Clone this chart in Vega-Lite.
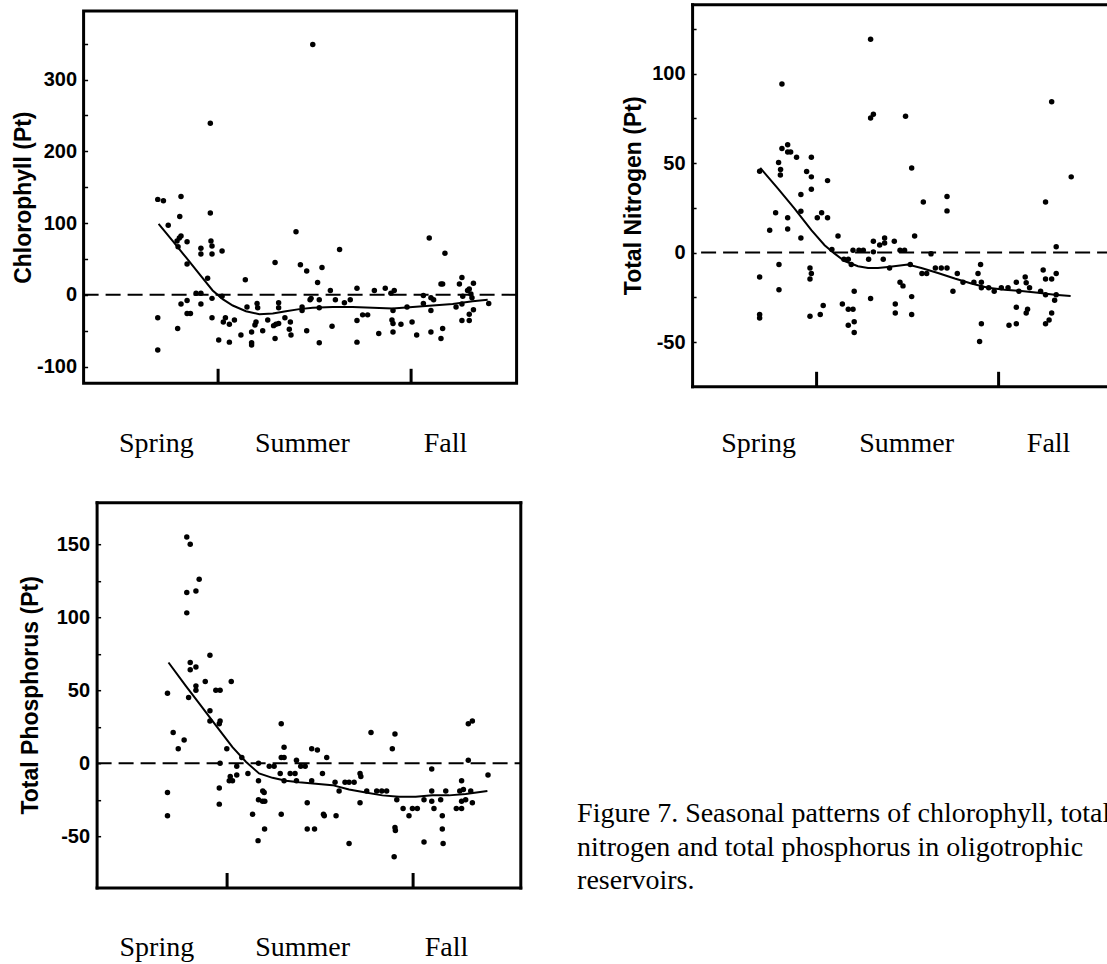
{
  "$schema": "https://vega.github.io/schema/vega-lite/v6.json",
  "background": "white",
  "padding": {"left": 10.6, "top": 4, "right": 0, "bottom": 0},
  "config": {
    "view": {"stroke": "black", "strokeWidth": 3},
    "axis": {"grid": false, "domain": false, "labelColor": "black", "tickColor": "black", "titleColor": "black", "domainColor": "black", "domainWidth": 3, "domainCap": "square"},
    "axisY": {"labelFont": "Liberation Sans", "labelFontSize": 20, "labelFontWeight": "bold", "tickSize": -4, "tickWidth": 1.5, "labelPadding": 11, "labelBaseline": "middle", "titleFont": "Liberation Sans", "titleFontSize": 23, "titleFontWeight": "bold", "labelOverlap": false, "labelBound": false},
    "axisX": {"labelFont": "Liberation Serif", "labelFontSize": 28, "labelFontWeight": "normal", "labelAngle": 0, "tickSize": -15, "tickWidth": 3, "labelPadding": 83, "labelBaseline": "alphabetic", "labelOverlap": false, "labelFlush": false, "labelBound": false}
  },
  "datasets": {
    "zero": [{"value": 0}],
    "chlorophyll": [
      {"day": 123.4, "value": 133}, {"day": 126.1, "value": 131}, {"day": 123.4, "value": -32}, {"day": 123.4, "value": -77},
      {"day": 128.4, "value": 97}, {"day": 134.5, "value": 137}, {"day": 133.9, "value": 109}, {"day": 134.5, "value": 82},
      {"day": 133.7, "value": 79}, {"day": 132.6, "value": 75}, {"day": 133.1, "value": 67}, {"day": 137.4, "value": 74},
      {"day": 137.4, "value": 43}, {"day": 134.5, "value": -13}, {"day": 132.9, "value": -47}, {"day": 137.4, "value": -8},
      {"day": 137.4, "value": -26}, {"day": 139.0, "value": -26}, {"day": 141.7, "value": 2}, {"day": 144.0, "value": 2},
      {"day": 144.0, "value": -13}, {"day": 144.0, "value": 65}, {"day": 144.0, "value": 57}, {"day": 147.2, "value": 23},
      {"day": 148.5, "value": 239}, {"day": 148.5, "value": 114}, {"day": 148.8, "value": 75}, {"day": 149.3, "value": 68},
      {"day": 149.3, "value": 57}, {"day": 149.3, "value": -5}, {"day": 149.3, "value": -32}, {"day": 154.1, "value": 61},
      {"day": 154.1, "value": -2}, {"day": 152.5, "value": -63}, {"day": 155.7, "value": -32}, {"day": 154.7, "value": -38},
      {"day": 157.6, "value": -41}, {"day": 160.0, "value": -35}, {"day": 157.6, "value": -66}, {"day": 163.1, "value": -56},
      {"day": 165.2, "value": 21}, {"day": 166.0, "value": -17}, {"day": 168.2, "value": -52}, {"day": 168.2, "value": -67},
      {"day": 168.2, "value": -70}, {"day": 170.8, "value": -12}, {"day": 171.1, "value": -18}, {"day": 170.3, "value": -38},
      {"day": 169.8, "value": -42}, {"day": 173.5, "value": -50}, {"day": 175.9, "value": -35}, {"day": 179.4, "value": 45},
      {"day": 178.7, "value": -43}, {"day": 179.8, "value": -41}, {"day": 181.1, "value": -40}, {"day": 179.4, "value": -61},
      {"day": 181.1, "value": -11}, {"day": 181.1, "value": -18}, {"day": 184.1, "value": -32}, {"day": 186.7, "value": -38},
      {"day": 186.2, "value": -48}, {"day": 187.0, "value": -56}, {"day": 189.4, "value": 88}, {"day": 191.5, "value": 42},
      {"day": 192.3, "value": -17}, {"day": 192.3, "value": -22}, {"day": 194.5, "value": 33}, {"day": 194.5, "value": -50},
      {"day": 196.6, "value": -5}, {"day": 196.1, "value": -7}, {"day": 197.4, "value": 349}, {"day": 199.7, "value": 17},
      {"day": 200.5, "value": -7}, {"day": 200.5, "value": -18}, {"day": 200.5, "value": -67}, {"day": 201.8, "value": 38},
      {"day": 205.8, "value": 6}, {"day": 206.6, "value": -44}, {"day": 208.2, "value": -7}, {"day": 210.2, "value": 63},
      {"day": 212.5, "value": -11}, {"day": 215.3, "value": -7}, {"day": 218.5, "value": 9}, {"day": 218.5, "value": -36},
      {"day": 218.5, "value": -66}, {"day": 221.2, "value": -28}, {"day": 223.6, "value": -28}, {"day": 226.8, "value": 6},
      {"day": 228.9, "value": -54}, {"day": 232.0, "value": 9}, {"day": 234.7, "value": 2}, {"day": 236.3, "value": 6},
      {"day": 235.2, "value": -35}, {"day": 235.7, "value": -40}, {"day": 235.7, "value": -22}, {"day": 235.7, "value": -52},
      {"day": 239.5, "value": -41}, {"day": 242.4, "value": -17}, {"day": 244.8, "value": -38}, {"day": 247.0, "value": -56},
      {"day": 250.2, "value": -1}, {"day": 250.2, "value": -12}, {"day": 253.0, "value": 79}, {"day": 253.8, "value": -4},
      {"day": 255.1, "value": -7}, {"day": 253.8, "value": -22}, {"day": 253.8, "value": -52}, {"day": 258.6, "value": 15},
      {"day": 259.4, "value": 15}, {"day": 260.5, "value": 58}, {"day": 259.4, "value": -47}, {"day": 258.6, "value": -61},
      {"day": 265.8, "value": -17}, {"day": 267.4, "value": 15}, {"day": 268.6, "value": 24}, {"day": 269.0, "value": -2},
      {"day": 268.6, "value": -13}, {"day": 268.6, "value": -36}, {"day": 271.3, "value": 6}, {"day": 272.1, "value": 8},
      {"day": 272.1, "value": -27}, {"day": 272.1, "value": -36}, {"day": 274.1, "value": 16}, {"day": 273.4, "value": -4},
      {"day": 274.1, "value": -21}, {"day": 272.9, "value": 1}, {"day": 281.4, "value": -12}
    ],
    "chlorophyllTrend": [
      {"day": 123.8, "value": 99}, {"day": 130.5, "value": 75}, {"day": 136.9, "value": 52}, {"day": 143.2, "value": 29},
      {"day": 149.6, "value": 6}, {"day": 154.4, "value": -6}, {"day": 159.2, "value": -15}, {"day": 165.5, "value": -23},
      {"day": 171.9, "value": -27}, {"day": 178.3, "value": -26}, {"day": 184.6, "value": -23}, {"day": 191.0, "value": -20},
      {"day": 197.4, "value": -18}, {"day": 206.9, "value": -17}, {"day": 216.4, "value": -17}, {"day": 226.0, "value": -18},
      {"day": 235.5, "value": -19}, {"day": 245.1, "value": -17}, {"day": 254.6, "value": -15}, {"day": 264.2, "value": -13},
      {"day": 273.7, "value": -9}, {"day": 280.9, "value": -7}
    ],
    "nitrogen": [
      {"day": 123.3, "value": 45.4}, {"day": 123.3, "value": -13.6}, {"day": 123.3, "value": -34.6}, {"day": 123.3, "value": -36.5},
      {"day": 128.4, "value": 12.5}, {"day": 131.4, "value": 22.3}, {"day": 132.9, "value": 50.3}, {"day": 133.9, "value": 46.4},
      {"day": 133.8, "value": 43.4}, {"day": 134.6, "value": 58.1}, {"day": 134.6, "value": 94.2}, {"day": 133.1, "value": -6.7},
      {"day": 133.1, "value": -20.7}, {"day": 137.5, "value": 60.3}, {"day": 137.5, "value": 56.2}, {"day": 139.0, "value": 56.2},
      {"day": 137.5, "value": 19.4}, {"day": 137.5, "value": 13.2}, {"day": 142.0, "value": 53.3}, {"day": 144.2, "value": 32.4},
      {"day": 144.2, "value": 23.1}, {"day": 144.2, "value": 8.2}, {"day": 147.1, "value": 45.3}, {"day": 149.5, "value": 53.3},
      {"day": 149.5, "value": 42.3}, {"day": 149.5, "value": 35.4}, {"day": 148.8, "value": -8.6}, {"day": 149.5, "value": -11.7},
      {"day": 148.8, "value": -14.7}, {"day": 148.8, "value": -35.6}, {"day": 152.5, "value": 19.4}, {"day": 154.7, "value": 22.3},
      {"day": 157.7, "value": 40.2}, {"day": 157.7, "value": 19.4}, {"day": 154.0, "value": -34.6}, {"day": 155.5, "value": -29.6},
      {"day": 163.0, "value": 9.3}, {"day": 159.9, "value": 1.7}, {"day": 166.0, "value": -3.7}, {"day": 168.2, "value": -3.7},
      {"day": 169.7, "value": -6.7}, {"day": 165.2, "value": -28.7}, {"day": 168.2, "value": -31.7}, {"day": 170.6, "value": -31.7},
      {"day": 168.2, "value": -40.6}, {"day": 171.2, "value": -21.6}, {"day": 171.2, "value": -38.7}, {"day": 171.2, "value": -44.7},
      {"day": 170.6, "value": 1.3}, {"day": 173.6, "value": 1.3}, {"day": 175.8, "value": 1.3}, {"day": 178.5, "value": -3.7},
      {"day": 179.5, "value": 119.2}, {"day": 179.5, "value": 75.2}, {"day": 180.9, "value": 77.3}, {"day": 179.5, "value": -25.7},
      {"day": 180.9, "value": 6.3}, {"day": 180.9, "value": 0.4}, {"day": 184.1, "value": 4.3}, {"day": 186.6, "value": 8.2},
      {"day": 186.6, "value": 5.4}, {"day": 185.9, "value": -3.7}, {"day": 189.1, "value": -8.6}, {"day": 191.5, "value": 6.3},
      {"day": 192.0, "value": -28.7}, {"day": 192.0, "value": -33.7}, {"day": 194.4, "value": 1.3}, {"day": 196.7, "value": 1.3},
      {"day": 194.4, "value": -16.6}, {"day": 195.9, "value": -18.6}, {"day": 197.2, "value": 76.2}, {"day": 199.6, "value": -6.7},
      {"day": 200.3, "value": 47.3}, {"day": 200.3, "value": -24.6}, {"day": 200.3, "value": -34.6}, {"day": 201.8, "value": 9.3},
      {"day": 206.2, "value": 28.3}, {"day": 205.5, "value": -11.7}, {"day": 207.9, "value": -11.7}, {"day": 210.1, "value": -0.7},
      {"day": 212.3, "value": -8.6}, {"day": 215.3, "value": -8.6}, {"day": 218.2, "value": -8.6}, {"day": 218.2, "value": 31.3},
      {"day": 218.2, "value": 23.3}, {"day": 221.2, "value": -21.6}, {"day": 223.4, "value": -11.7}, {"day": 226.3, "value": -16.6},
      {"day": 231.8, "value": -16.6}, {"day": 233.9, "value": -11.7}, {"day": 235.2, "value": -6.7}, {"day": 235.6, "value": -16.6},
      {"day": 235.6, "value": -19.6}, {"day": 239.3, "value": -19.6}, {"day": 242.1, "value": -21.6}, {"day": 245.7, "value": -19.6},
      {"day": 249.1, "value": -19.6}, {"day": 234.7, "value": -49.7}, {"day": 235.6, "value": -39.7}, {"day": 253.3, "value": -16.6},
      {"day": 257.8, "value": -13.6}, {"day": 258.3, "value": -16.9}, {"day": 260.0, "value": -19.6}, {"day": 254.6, "value": -21.6},
      {"day": 253.3, "value": -30.5}, {"day": 259.0, "value": -31.7}, {"day": 258.3, "value": -33.7}, {"day": 249.6, "value": -40.6},
      {"day": 253.3, "value": -39.7}, {"day": 265.6, "value": -21.6}, {"day": 266.9, "value": -9.7}, {"day": 268.1, "value": -14.7},
      {"day": 271.2, "value": -14.7}, {"day": 268.1, "value": -23.6}, {"day": 268.1, "value": 28.3}, {"day": 271.2, "value": 84.2},
      {"day": 273.5, "value": 3.2}, {"day": 273.5, "value": -11.7}, {"day": 273.5, "value": -23.6}, {"day": 272.7, "value": -26.6},
      {"day": 271.2, "value": -33.7}, {"day": 269.9, "value": -37.6}, {"day": 268.1, "value": -39.7}, {"day": 281.1, "value": 42.3}
    ],
    "nitrogenTrend": [
      {"day": 123.6, "value": 47.3}, {"day": 132.6, "value": 35.7}, {"day": 141.0, "value": 24.6}, {"day": 149.5, "value": 12.5},
      {"day": 156.2, "value": 4.1}, {"day": 161.3, "value": -0.6}, {"day": 166.3, "value": -4.7}, {"day": 173.1, "value": -7.6},
      {"day": 178.2, "value": -8.6}, {"day": 183.2, "value": -8.6}, {"day": 188.3, "value": -8.0}, {"day": 193.4, "value": -7.4},
      {"day": 198.4, "value": -6.7}, {"day": 205.2, "value": -8.6}, {"day": 213.6, "value": -11.4}, {"day": 222.1, "value": -14.5},
      {"day": 230.5, "value": -17.3}, {"day": 238.9, "value": -19.6}, {"day": 247.4, "value": -20.7}, {"day": 255.8, "value": -21.4},
      {"day": 264.3, "value": -22.5}, {"day": 272.7, "value": -23.6}, {"day": 280.8, "value": -24.2}
    ],
    "phosphorus": [
      {"day": 123.1, "value": 48}, {"day": 123.1, "value": -20}, {"day": 123.1, "value": -36}, {"day": 125.9, "value": 21},
      {"day": 128.4, "value": 10}, {"day": 131.3, "value": 16}, {"day": 132.6, "value": 155}, {"day": 134.3, "value": 150},
      {"day": 132.6, "value": 117}, {"day": 132.6, "value": 103}, {"day": 137.1, "value": 118}, {"day": 138.7, "value": 126},
      {"day": 134.3, "value": 69}, {"day": 134.3, "value": 64}, {"day": 137.1, "value": 66}, {"day": 137.1, "value": 53},
      {"day": 137.1, "value": 50}, {"day": 133.5, "value": 45}, {"day": 141.7, "value": 56}, {"day": 144.0, "value": 74},
      {"day": 144.0, "value": 36}, {"day": 144.0, "value": 29}, {"day": 146.9, "value": 50}, {"day": 149.0, "value": 50},
      {"day": 149.0, "value": 29}, {"day": 148.6, "value": 27}, {"day": 149.0, "value": 0}, {"day": 148.6, "value": -17},
      {"day": 148.6, "value": -28}, {"day": 152.3, "value": 10}, {"day": 154.5, "value": 56}, {"day": 154.0, "value": -9},
      {"day": 153.5, "value": -12}, {"day": 155.1, "value": -12}, {"day": 157.2, "value": -2}, {"day": 157.2, "value": -8},
      {"day": 159.7, "value": 4}, {"day": 162.7, "value": -7}, {"day": 165.0, "value": -35}, {"day": 167.9, "value": 0},
      {"day": 167.9, "value": -12}, {"day": 167.9, "value": -25}, {"day": 170.0, "value": -19}, {"day": 170.7, "value": -20},
      {"day": 169.9, "value": -26}, {"day": 171.0, "value": -26}, {"day": 170.9, "value": -45}, {"day": 173.2, "value": -2},
      {"day": 175.6, "value": -2}, {"day": 178.6, "value": -7}, {"day": 179.1, "value": 27}, {"day": 179.1, "value": 4},
      {"day": 180.5, "value": 4}, {"day": 180.5, "value": 11}, {"day": 180.5, "value": -12}, {"day": 179.1, "value": -35},
      {"day": 183.5, "value": -7}, {"day": 185.9, "value": -7}, {"day": 186.6, "value": 2}, {"day": 186.6, "value": -12},
      {"day": 188.7, "value": -2}, {"day": 190.9, "value": -2}, {"day": 191.9, "value": -27}, {"day": 191.9, "value": -45},
      {"day": 195.5, "value": -45}, {"day": 194.1, "value": 10}, {"day": 196.9, "value": 9}, {"day": 194.1, "value": -12},
      {"day": 199.4, "value": -7}, {"day": 201.5, "value": 4}, {"day": 199.9, "value": -35}, {"day": 200.3, "value": -36},
      {"day": 205.6, "value": -13}, {"day": 206.1, "value": -36}, {"day": 207.6, "value": -19}, {"day": 210.5, "value": -13},
      {"day": 212.5, "value": -13}, {"day": 215.0, "value": -13}, {"day": 217.9, "value": -7}, {"day": 218.3, "value": -9},
      {"day": 217.9, "value": -27}, {"day": 221.2, "value": -19}, {"day": 223.3, "value": 21}, {"day": 226.1, "value": -19},
      {"day": 228.6, "value": -19}, {"day": 231.0, "value": -19}, {"day": 233.8, "value": 10}, {"day": 235.1, "value": 20},
      {"day": 236.0, "value": -25}, {"day": 235.1, "value": -44}, {"day": 235.3, "value": -46}, {"day": 239.1, "value": -31},
      {"day": 242.0, "value": -36}, {"day": 243.7, "value": -31}, {"day": 246.1, "value": -31}, {"day": 249.4, "value": -25},
      {"day": 253.2, "value": -4}, {"day": 253.2, "value": -19}, {"day": 253.2, "value": -26}, {"day": 254.3, "value": -31},
      {"day": 257.6, "value": -25}, {"day": 258.4, "value": -36}, {"day": 258.4, "value": -45}, {"day": 260.1, "value": -19},
      {"day": 265.3, "value": -31}, {"day": 267.9, "value": -31}, {"day": 267.9, "value": -12}, {"day": 267.0, "value": -19},
      {"day": 268.8, "value": -18}, {"day": 267.9, "value": -26}, {"day": 269.9, "value": -25}, {"day": 271.2, "value": 2},
      {"day": 271.2, "value": 27}, {"day": 273.2, "value": 29}, {"day": 272.4, "value": -19}, {"day": 273.2, "value": -27},
      {"day": 280.9, "value": -8}, {"day": 167.7, "value": -53}, {"day": 212.5, "value": -55}, {"day": 234.7, "value": -64},
      {"day": 249.4, "value": -54}, {"day": 258.8, "value": -55}
    ],
    "phosphorusTrend": [
      {"day": 123.6, "value": 69}, {"day": 132.1, "value": 53}, {"day": 138.7, "value": 41}, {"day": 146.9, "value": 26},
      {"day": 155.1, "value": 11}, {"day": 161.7, "value": 1}, {"day": 168.2, "value": -7}, {"day": 174.8, "value": -10},
      {"day": 181.4, "value": -12}, {"day": 187.9, "value": -13}, {"day": 196.1, "value": -14}, {"day": 204.3, "value": -15},
      {"day": 212.5, "value": -18}, {"day": 220.7, "value": -20}, {"day": 228.9, "value": -22}, {"day": 237.1, "value": -23},
      {"day": 245.3, "value": -23}, {"day": 253.5, "value": -22}, {"day": 261.7, "value": -22}, {"day": 269.9, "value": -21},
      {"day": 280.6, "value": -19}
    ],
    "caption": [
      {"line": 1, "text": "Figure 7. Seasonal patterns of chlorophyll, total"},
      {"line": 2, "text": "nitrogen and total phosphorus in oligotrophic"},
      {"line": 3, "text": "reservoirs."}
    ]
  },
  "spacing": 43.2,
  "vconcat": [
    {
      "spacing": 102.5,
      "hconcat": [
        {
          "width": 433,
          "height": 372.3,
          "layer": [
            {
              "data": {"name": "zero"},
              "mark": {"type": "rule", "color": "black", "strokeWidth": 2, "strokeDash": [15, 7]},
              "encoding": {"y": {"field": "value", "type": "quantitative", "title": "Chlorophyll (Pt)"}}
            },
            {
              "data": {"name": "chlorophyll"},
              "mark": {"type": "point", "filled": true, "color": "black", "size": 30, "opacity": 1},
              "encoding": {
                "x": {"field": "day", "type": "quantitative", "title": null,
                  "scale": {"domain": [88.0, 294.7], "nice": false, "zero": false},
                  "axis": {"values": [122.5, 152, 192.2, 244, 260.5], "labelOverlap": false, "labelPadding": 83,
                    "labelExpr": "datum.value == 152 || datum.value == 244 ? '' : datum.value < 150 ? 'Spring' : datum.value < 230 ? 'Summer' : 'Fall'",
                    "tickOpacity": {"condition": {"test": "datum.value == 152 || datum.value == 244", "value": 1}, "value": 0}}},
                "y": {"field": "value", "type": "quantitative", "title": "Chlorophyll (Pt)",
                  "scale": {"domain": [-123.4, 395.6], "nice": false, "zero": false},
                  "axis": {"values": [-100, -50, 0, 50, 100, 150, 200, 250, 300, 350], "labelOverlap": false,
                    "labelExpr": "datum.value % 100 == 0 ? '' + datum.value : ''", "titlePadding": 1}}
              }
            },
            {
              "data": {"name": "chlorophyllTrend"},
              "mark": {"type": "line", "color": "black", "strokeWidth": 2},
              "encoding": {
                "x": {"field": "day", "type": "quantitative", "title": null},
                "y": {"field": "value", "type": "quantitative", "title": "Chlorophyll (Pt)"}
              }
            }
          ]
        },
        {
          "width": 420,
          "height": 375.3,
          "view": {"stroke": null},
          "resolve": {"axis": {"x": "independent", "y": "independent"}},
          "layer": [
            {
              "data": {"name": "zero"},
              "mark": {"type": "rule", "color": "black", "strokeWidth": 2, "strokeDash": [15, 7]},
              "encoding": {"y": {"field": "value", "type": "quantitative", "axis": null}}
            },
            {
              "data": {"name": "nitrogen"},
              "mark": {"type": "point", "filled": true, "color": "black", "size": 30, "opacity": 1},
              "encoding": {
                "x": {"field": "day", "type": "quantitative", "title": null,
                  "scale": {"domain": [89.1, 301.8], "nice": false, "zero": false},
                  "axis": {"orient": "bottom", "domain": true, "values": [122.5, 152, 197.5, 244, 269.4], "labelOverlap": false, "labelPadding": 80,
                    "labelExpr": "datum.value == 152 || datum.value == 244 ? '' : datum.value < 150 ? 'Spring' : datum.value < 230 ? 'Summer' : 'Fall'",
                    "tickOpacity": {"condition": {"test": "datum.value == 152 || datum.value == 244", "value": 1}, "value": 0}}},
                "y": {"field": "value", "type": "quantitative", "title": "Total Nitrogen (Pt)",
                  "scale": {"domain": [-74.7, 138.7], "range": [375.3, -6.7], "nice": false, "zero": false},
                  "axis": {"orient": "left", "domain": true, "values": [-50, -25, 0, 25, 50, 75, 100, 125], "labelOverlap": false,
                    "labelExpr": "datum.value % 50 == 0 ? '' + datum.value : ''", "titlePadding": 6}}
              }
            },
            {
              "data": {"name": "nitrogenTrend"},
              "mark": {"type": "line", "color": "black", "strokeWidth": 2},
              "encoding": {
                "x": {"field": "day", "type": "quantitative", "axis": null},
                "y": {"field": "value", "type": "quantitative", "axis": null}
              }
            },
            {
              "data": {"name": "nitrogenTrend"},
              "mark": {"type": "point", "opacity": 0},
              "encoding": {
                "x": {"field": "day", "type": "quantitative",
                  "axis": {"orient": "top", "offset": 6.7, "domain": true, "ticks": false, "labels": false, "title": null}},
                "y": {"field": "value", "type": "quantitative", "axis": null}
              }
            }
          ]
        }
      ]
    },
    {
      "spacing": 55.5,
      "hconcat": [
        {
          "width": 436.7,
          "height": 385.3,
          "view": {"stroke": null},
          "resolve": {"axis": {"x": "independent", "y": "independent"}},
          "layer": [
            {
              "data": {"name": "zero"},
              "mark": {"type": "rule", "color": "black", "strokeWidth": 2, "strokeDash": [15, 7]},
              "encoding": {
                "x": {"datum": 88.2, "type": "quantitative", "axis": null},
                "x2": {"datum": 296.8},
                "y": {"field": "value", "type": "quantitative", "axis": null}
              }
            },
            {
              "data": {"name": "phosphorus"},
              "mark": {"type": "point", "filled": true, "color": "black", "size": 30, "opacity": 1},
              "encoding": {
                "x": {"field": "day", "type": "quantitative", "title": null,
                  "scale": {"domain": [88.2, 296.8], "range": [13, 436.7], "nice": false, "zero": false},
                  "axis": {"orient": "bottom", "domain": true, "values": [117.6, 152, 189.4, 244, 260.2], "labelOverlap": false, "labelPadding": 83,
                    "labelExpr": "datum.value == 152 || datum.value == 244 ? '' : datum.value < 150 ? 'Spring' : datum.value < 230 ? 'Summer' : 'Fall'",
                    "tickOpacity": {"condition": {"test": "datum.value == 152 || datum.value == 244", "value": 1}, "value": 0}}},
                "y": {"field": "value", "type": "quantitative", "title": "Total Phosphorus (Pt)",
                  "scale": {"domain": [-85.1, 178.8], "nice": false, "zero": false},
                  "axis": {"orient": "left", "offset": -13, "domain": true, "values": [-50, -25, 0, 25, 50, 75, 100, 125, 150], "labelOverlap": false,
                    "labelExpr": "datum.value % 50 == 0 ? '' + datum.value : ''", "titlePadding": 14}}
              }
            },
            {
              "data": {"name": "phosphorusTrend"},
              "mark": {"type": "line", "color": "black", "strokeWidth": 2},
              "encoding": {
                "x": {"field": "day", "type": "quantitative", "axis": null},
                "y": {"field": "value", "type": "quantitative", "axis": null}
              }
            },
            {
              "data": {"name": "phosphorusTrend"},
              "mark": {"type": "point", "opacity": 0},
              "encoding": {
                "x": {"field": "day", "type": "quantitative",
                  "axis": {"orient": "top", "domain": true, "ticks": false, "labels": false, "title": null}},
                "y": {"field": "value", "type": "quantitative",
                  "axis": {"orient": "right", "domain": true, "ticks": false, "labels": false, "title": null}}
              }
            }
          ]
        },
        {
          "width": 560,
          "height": 385.3,
          "view": {"stroke": null},
          "data": {"name": "caption"},
          "mark": {"type": "text", "align": "left", "baseline": "alphabetic", "font": "Liberation Serif", "fontSize": 28, "color": "black"},
          "encoding": {
            "text": {"field": "text", "type": "nominal"},
            "x": {"datum": 0, "type": "quantitative", "scale": {"domain": [0, 1]}, "axis": null},
            "y": {"field": "line", "type": "quantitative", "scale": {"domain": [-8.61, 2.96], "nice": false, "zero": false, "reverse": true}, "axis": null}
          }
        }
      ]
    }
  ]
}
